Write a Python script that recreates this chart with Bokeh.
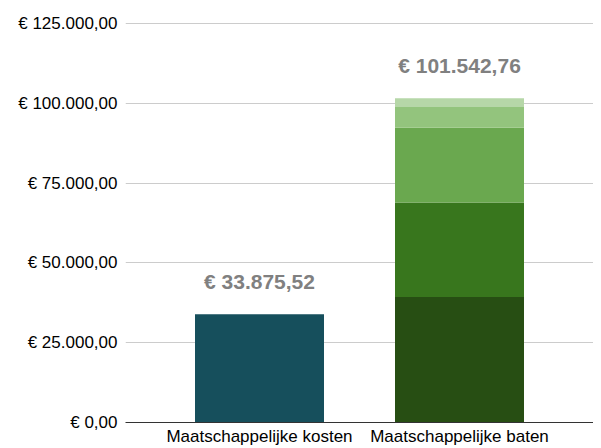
from bokeh.plotting import figure
from bokeh.models import ColumnDataSource, FactorRange, FixedTicker
from bokeh.embed import file_html
from bokeh.resources import INLINE
from bokeh.core.properties import value

# ---- data ----
categories = ["Maatschappelijke kosten", "Maatschappelijke baten"]
kosten_values = [33875.52]
baten_segments = [39300.0, 29600.0, 23450.0, 6500.0, 2692.76]
baten_colors = ["#274e13", "#38761d", "#6aa84f", "#93c47d", "#b6d7a8"]
kosten_color = "#164f5c"
y_ticks = [0, 25000, 50000, 75000, 100000, 125000]
y_tick_labels = ["€ 0,00", "€ 25.000,00", "€ 50.000,00", "€ 75.000,00",
                 "€ 100.000,00", "€ 125.000,00"]


def fmt_eur(v):
    s = f"{v:,.2f}"
    s = s.replace(",", "X").replace(".", ",").replace("X", ".")
    return "€ " + s


FONT = "Liberation Sans"

p = figure(
    x_range=FactorRange(factors=categories, range_padding=0.17,
                        range_padding_units="absolute"),
    y_range=(0, 125300),
    width=593, height=448,
    output_backend="svg", toolbar_location=None,
    min_border_top=22, min_border_left=125, min_border_right=0,
    min_border_bottom=0,
)
p.outline_line_color = None
p.background_fill_color = "white"
p.border_fill_color = "white"

bar_w = 0.645

# kosten bar
p.vbar(x=[categories[0]], bottom=[0], top=kosten_values, width=bar_w,
       color=kosten_color, line_color=None)

# baten stacked segments
bottoms = []
tops = []
acc = 0.0
for v in baten_segments:
    bottoms.append(acc)
    acc += v
    tops.append(acc)
src = ColumnDataSource(dict(x=[categories[1]] * len(baten_segments),
                            bottom=bottoms, top=tops, color=baten_colors))
p.vbar(x="x", bottom="bottom", top="top", width=bar_w, color="color",
       line_color=None, source=src)

# total labels
totals = [sum(kosten_values), sum(baten_segments)]
lab = ColumnDataSource(dict(x=categories, y=totals,
                            t=[fmt_eur(v) for v in totals]))
p.text(x="x", y="y", text="t", source=lab, y_offset=-33,
       text_align="center", text_baseline="middle",
       text_font=value(FONT), text_font_style="bold",
       text_font_size="21px", text_color="#808080")

# axes
p.yaxis.ticker = FixedTicker(ticks=y_ticks)
p.yaxis.major_label_overrides = {t: l for t, l in zip(y_ticks, y_tick_labels)}
p.yaxis.axis_line_color = None
p.yaxis.major_tick_line_color = None
p.yaxis.minor_tick_line_color = None
p.yaxis.major_tick_in = 0
p.yaxis.major_tick_out = 0
p.yaxis.major_label_standoff = 8
p.yaxis.major_label_text_font = FONT
p.yaxis.major_label_text_font_size = "17px"
p.yaxis.major_label_text_color = "#000000"

p.xaxis.axis_line_color = "#333333"
p.xaxis.axis_line_width = 1
p.xaxis.major_tick_line_color = None
p.xaxis.minor_tick_line_color = None
p.xaxis.major_tick_in = 0
p.xaxis.major_tick_out = 0
p.xaxis.major_label_standoff = 4
p.xaxis.major_label_text_font = FONT
p.xaxis.major_label_text_font_size = "17px"
p.xaxis.major_label_text_color = "#000000"

p.xgrid.grid_line_color = None
p.ygrid.grid_line_color = "#cccccc"
p.ygrid.grid_line_width = 1

open("out.html", "w").write(file_html(p, INLINE))
